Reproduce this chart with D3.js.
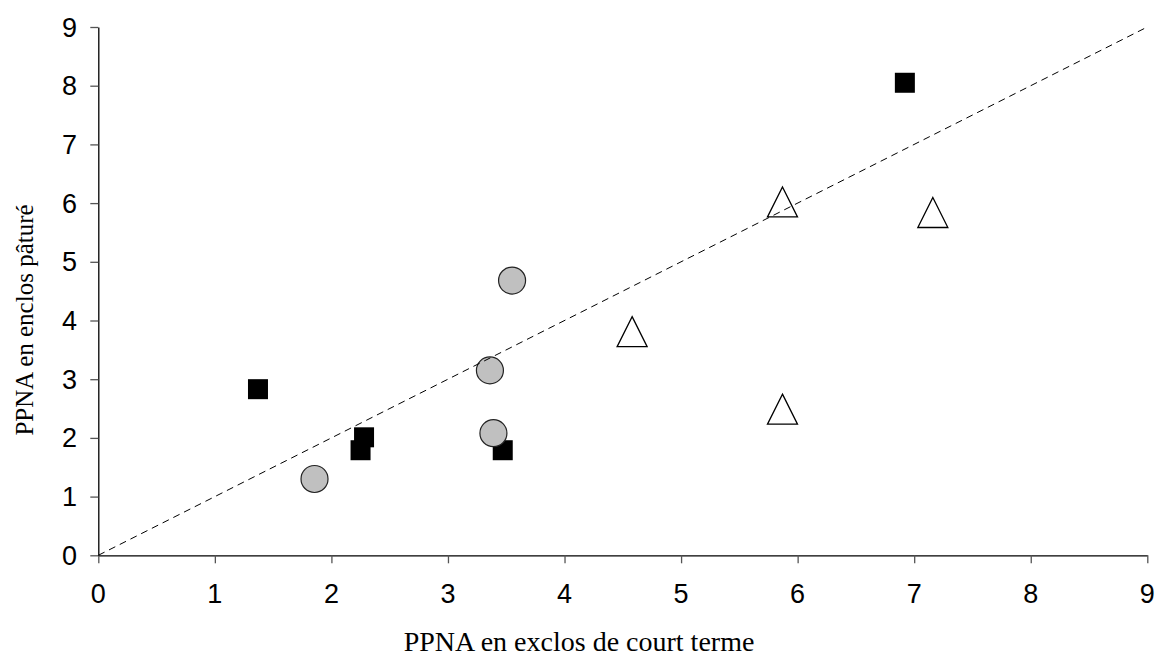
<!DOCTYPE html>
<html>
<head>
<meta charset="utf-8">
<script src="https://cdn.jsdelivr.net/npm/d3@7"></script>
<style>
  body { margin: 0; background: #fff; }
  svg { display: block; }
</style>
</head>
<body>
<div id="chart"></div>
<script>
// ---------- DATA ----------
const ticks = [0, 1, 2, 3, 4, 5, 6, 7, 8, 9];

// black squares
const squareX = [1.37, 2.25, 2.28, 3.47, 6.92];
const squareY = [2.83, 1.79, 2.01, 1.79, 8.05];

// grey circles
const circleX = [1.855, 3.36, 3.39, 3.55];
const circleY = [1.30, 3.15, 2.08, 4.68];

// white triangles
const triX = [4.58, 5.87, 5.87, 7.16];
const triY = [3.81, 6.02, 2.49, 5.84];

const xTitle = "PPNA en exclos de court terme";
const yTitle = "PPNA en enclos pâturé";

// ---------- CHART ----------
const width = 1158;
const height = 657;

const svg = d3
	.select("#chart")
	.append("svg")
	.attr("width", width)
	.attr("height", height);

const x = d3.scaleLinear().domain([0, 9]).range([98.3, 1147.3]);
const y = d3.scaleLinear().domain([0, 9]).range([555.3, 27]);

// axes (lines + ticks only, labels drawn below)
const xAxis = svg
	.append("g")
	.attr("transform", `translate(0,${y(0)})`)
	.call(d3.axisBottom(x).tickValues(ticks).tickSize(8).tickSizeOuter(0).tickFormat(""));

const yAxis = svg
	.append("g")
	.attr("transform", `translate(${x(0)},0)`)
	.call(d3.axisLeft(y).tickValues(ticks).tickSize(8).tickSizeOuter(0).tickFormat(""));

[xAxis, yAxis].forEach((ax) => {
	ax.select(".domain").attr("stroke", "#000").attr("stroke-width", 1.3);
	ax.selectAll(".tick line").attr("stroke", "#555").attr("stroke-width", 1.3);
});

// tick labels
svg.append("g")
	.selectAll("text")
	.data(ticks)
	.enter()
	.append("text")
	.attr("x", (d) => x(d))
	.attr("y", 603)
	.attr("text-anchor", "middle")
	.attr("font-family", "Liberation Sans, Arial, sans-serif")
	.attr("font-size", 27)
	.attr("fill", "#000")
	.text((d) => d);

svg.append("g")
	.selectAll("text")
	.data(ticks)
	.enter()
	.append("text")
	.attr("x", 77)
	.attr("y", (d) => y(d) + 9.5)
	.attr("text-anchor", "end")
	.attr("font-family", "Liberation Sans, Arial, sans-serif")
	.attr("font-size", 27)
	.attr("fill", "#000")
	.text((d) => d);

// axis titles
svg.append("text")
	.attr("x", 579)
	.attr("y", 651)
	.attr("text-anchor", "middle")
	.attr("font-family", "Liberation Serif, Times New Roman, serif")
	.attr("font-size", 28)
	.text(xTitle);

svg.append("text")
	.attr("transform", "translate(33,320) rotate(-90)")
	.attr("text-anchor", "middle")
	.attr("font-family", "Liberation Serif, Times New Roman, serif")
	.attr("font-size", 25)
	.text(yTitle);

// markers
const squares = squareX.map((v, i) => ({ x: v, y: squareY[i] }));
const circles = circleX.map((v, i) => ({ x: v, y: circleY[i] }));
const tris = triX.map((v, i) => ({ x: v, y: triY[i] }));

svg.append("g")
	.selectAll("rect")
	.data(squares)
	.enter()
	.append("rect")
	.attr("x", (d) => x(d.x) - 10)
	.attr("y", (d) => y(d.y) - 10)
	.attr("width", 20)
	.attr("height", 20)
	.attr("fill", "#000");

svg.append("g")
	.selectAll("circle")
	.data(circles)
	.enter()
	.append("circle")
	.attr("cx", (d) => x(d.x))
	.attr("cy", (d) => y(d.y))
	.attr("r", 13.5)
	.attr("fill", "#c0c0c0")
	.attr("stroke", "#222")
	.attr("stroke-width", 1.2);

svg.append("g")
	.selectAll("path")
	.data(tris)
	.enter()
	.append("path")
	.attr("d", (d) => {
		const cx = x(d.x), cy = y(d.y);
		return `M${cx},${cy - 15}L${cx + 15},${cy + 15}L${cx - 15},${cy + 15}Z`;
	})
	.attr("fill", "#fff")
	.attr("stroke", "#000")
	.attr("stroke-width", 1.3);

// 1:1 line
svg.append("line")
	.attr("x1", x(0))
	.attr("y1", y(0))
	.attr("x2", x(9))
	.attr("y2", y(9))
	.attr("stroke", "#000")
	.attr("stroke-width", 1)
	.attr("stroke-dasharray", "7,5");
</script>
</body>
</html>
